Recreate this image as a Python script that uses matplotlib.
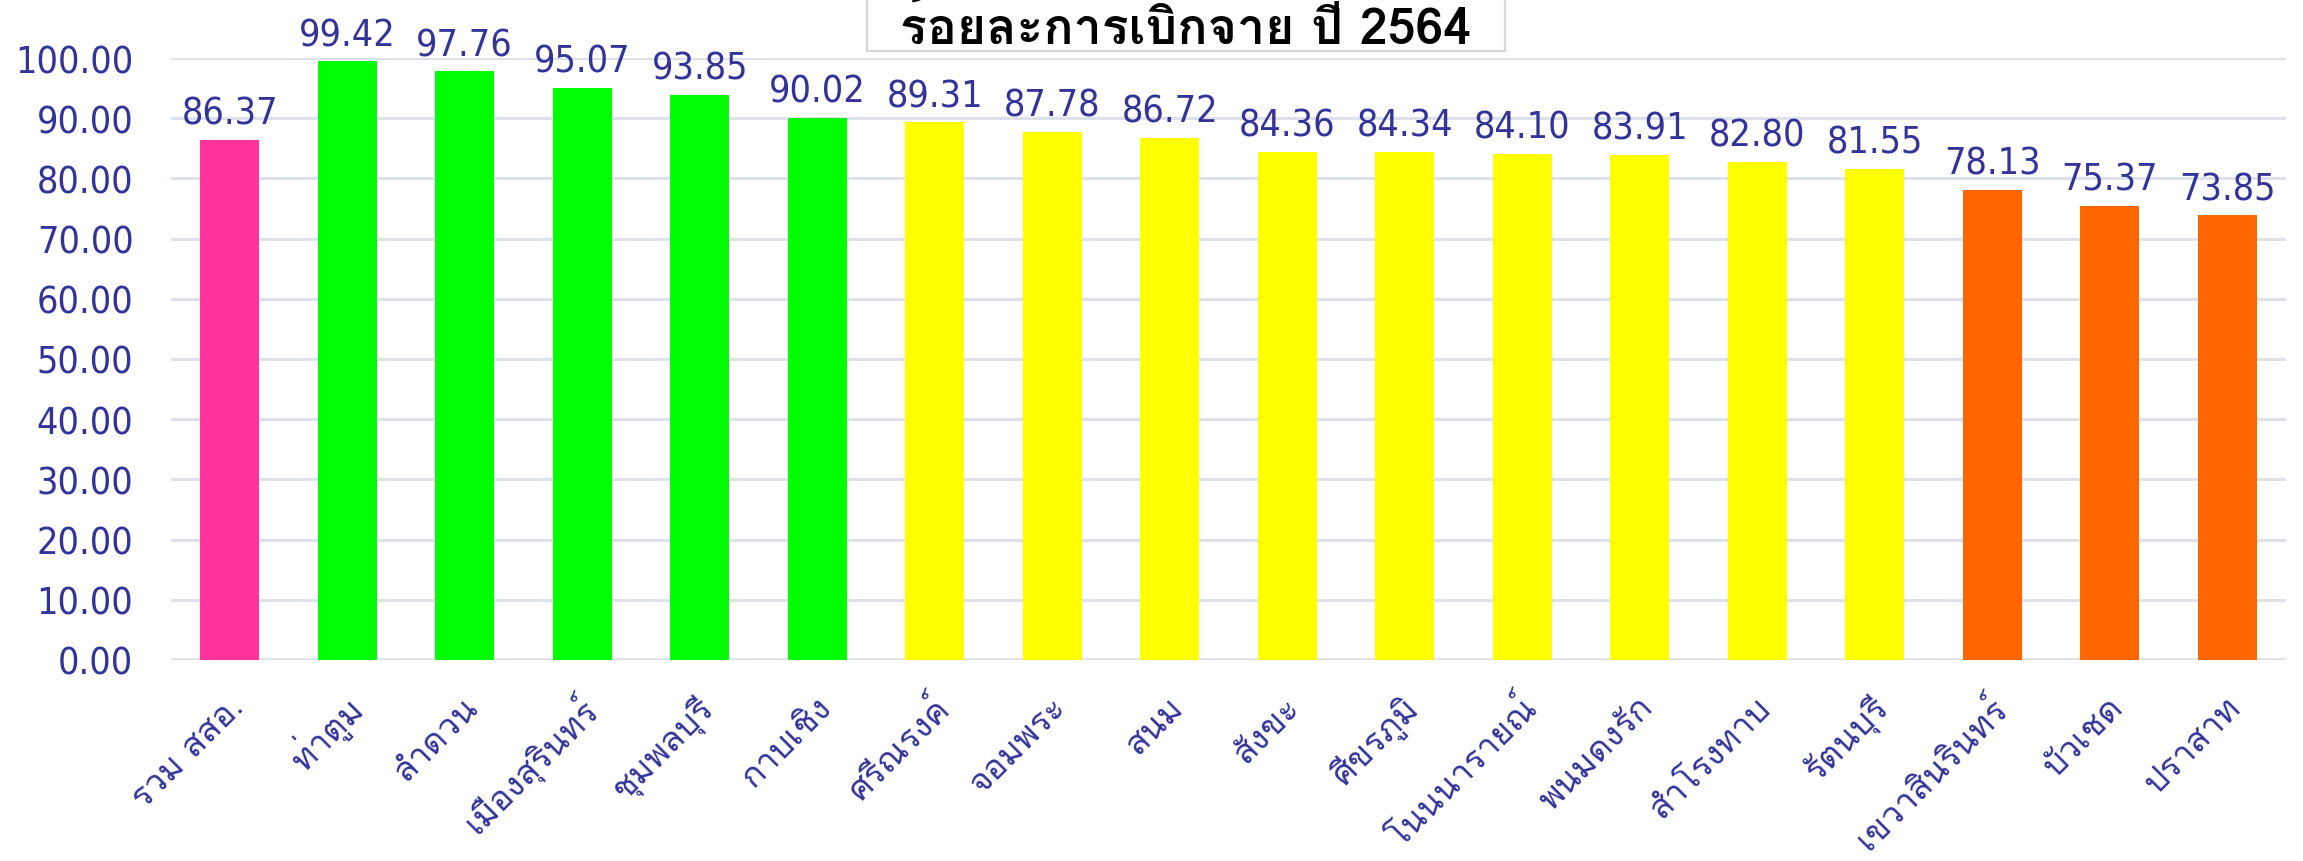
import matplotlib
matplotlib.use("Agg")
import matplotlib.pyplot as plt
from matplotlib import font_manager as fm
from matplotlib.font_manager import FontProperties
from matplotlib.patches import Rectangle
import matplotlib.transforms as mtrans

categories = ["รวม สสอ.", "ท่าตูม", "ลำดวน", "เมืองสุรินทร์", "ชุมพลบุรี", "กาบเชิง",
              "ศรีณรงค์", "จอมพระ", "สนม", "สังขะ", "ศีขรภูมิ", "โนนนารายณ์",
              "พนมดงรัก", "สำโรงทาบ", "รัตนบุรี", "เขวาสินรินทร์", "บัวเชด", "ปราสาท"]
values = [86.37, 99.42, 97.76, 95.07, 93.85, 90.02, 89.31, 87.78, 86.72,
          84.36, 84.34, 84.10, 83.91, 82.80, 81.55, 78.13, 75.37, 73.85]
bar_colors = ["#ff3399"] + ["#00ff00"] * 5 + ["#ffff00"] * 9 + ["#ff6600"] * 3
yticks = [0, 10, 20, 30, 40, 50, 60, 70, 80, 90, 100]
title = "ร้อยละการเบิกจ่าย ปี 2564"

TXT = "#333399"
W, H = 2303, 862

names = {fe.name for fe in fm.fontManager.ttflist}
thai_name = None
for p in ["Tahoma", "Loma", "Noto Sans Thai Looped", "IBM Plex Sans Thai Looped",
          "Noto Sans Thai", "Sarabun"]:
    if p in names:
        thai_name = p
        break
thai_family = [thai_name, "DejaVu Sans"] if thai_name else ["DejaVu Sans"]

has_cond = any(fe.name == "DejaVu Sans" and fe.stretch != "normal"
               for fe in fm.fontManager.ttflist)


def num_fp(size):
    if has_cond:
        return FontProperties(family="DejaVu Sans", stretch="condensed", size=size)
    return FontProperties(family="DejaVu Sans", size=size)


fig = plt.figure(figsize=(W / 100, H / 100), dpi=100)
ax = fig.add_axes([171 / W, 1 - 661 / H, (2286 - 171) / W, (661 - 59) / H])

x = list(range(len(categories)))
ax.bar(x, values, width=0.5, color=bar_colors, zorder=3)

ax.set_xlim(-0.5, len(categories) - 0.5)
ax.set_ylim(0, 100)
ax.set_yticks(yticks)
ax.set_yticklabels([f"{v:.2f}" for v in yticks], color=TXT)
for lab in ax.get_yticklabels():
    lab.set_fontproperties(num_fp(27))
ax.tick_params(axis="y", length=0, pad=27)
ax.tick_params(axis="x", length=0, pad=0)
ax.yaxis.grid(True, color="#dde1e9", linewidth=2.2, zorder=0)
ax.set_axisbelow(True)
for s in ax.spines.values():
    s.set_visible(False)
ax.axhline(0, color="#dde1e9", linewidth=2.6, zorder=1)

ax.set_xticks(x)
ax.set_xticklabels(categories, rotation=45, ha="right", va="center",
                   rotation_mode="anchor", fontsize=24.5, color=TXT,
                   family=thai_family)
off = mtrans.ScaledTranslation(9 / 100, -42 / 100, fig.dpi_scale_trans)
for lab in ax.get_xticklabels():
    lab.set_transform(lab.get_transform() + off)

for xi, v in zip(x, values):
    ax.annotate(f"{v:.2f}", (xi, v), xytext=(0, 6), textcoords="offset points",
                ha="center", va="bottom", color=TXT, fontproperties=num_fp(27),
                annotation_clip=False)

box = Rectangle((867 / W, 1 - 52 / H), (1505 - 867) / W, 0.2,
                transform=fig.transFigure, facecolor="white",
                edgecolor="#d6d6d6", linewidth=1.6, zorder=5)
fig.add_artist(box)
fig.text((867 + 1505) / 2 / W, 1 - 44 / H, title, ha="center", va="baseline",
         fontsize=36, fontweight="bold", color="black", family=thai_family,
         zorder=6)

fig.savefig("out.png", dpi=100)
